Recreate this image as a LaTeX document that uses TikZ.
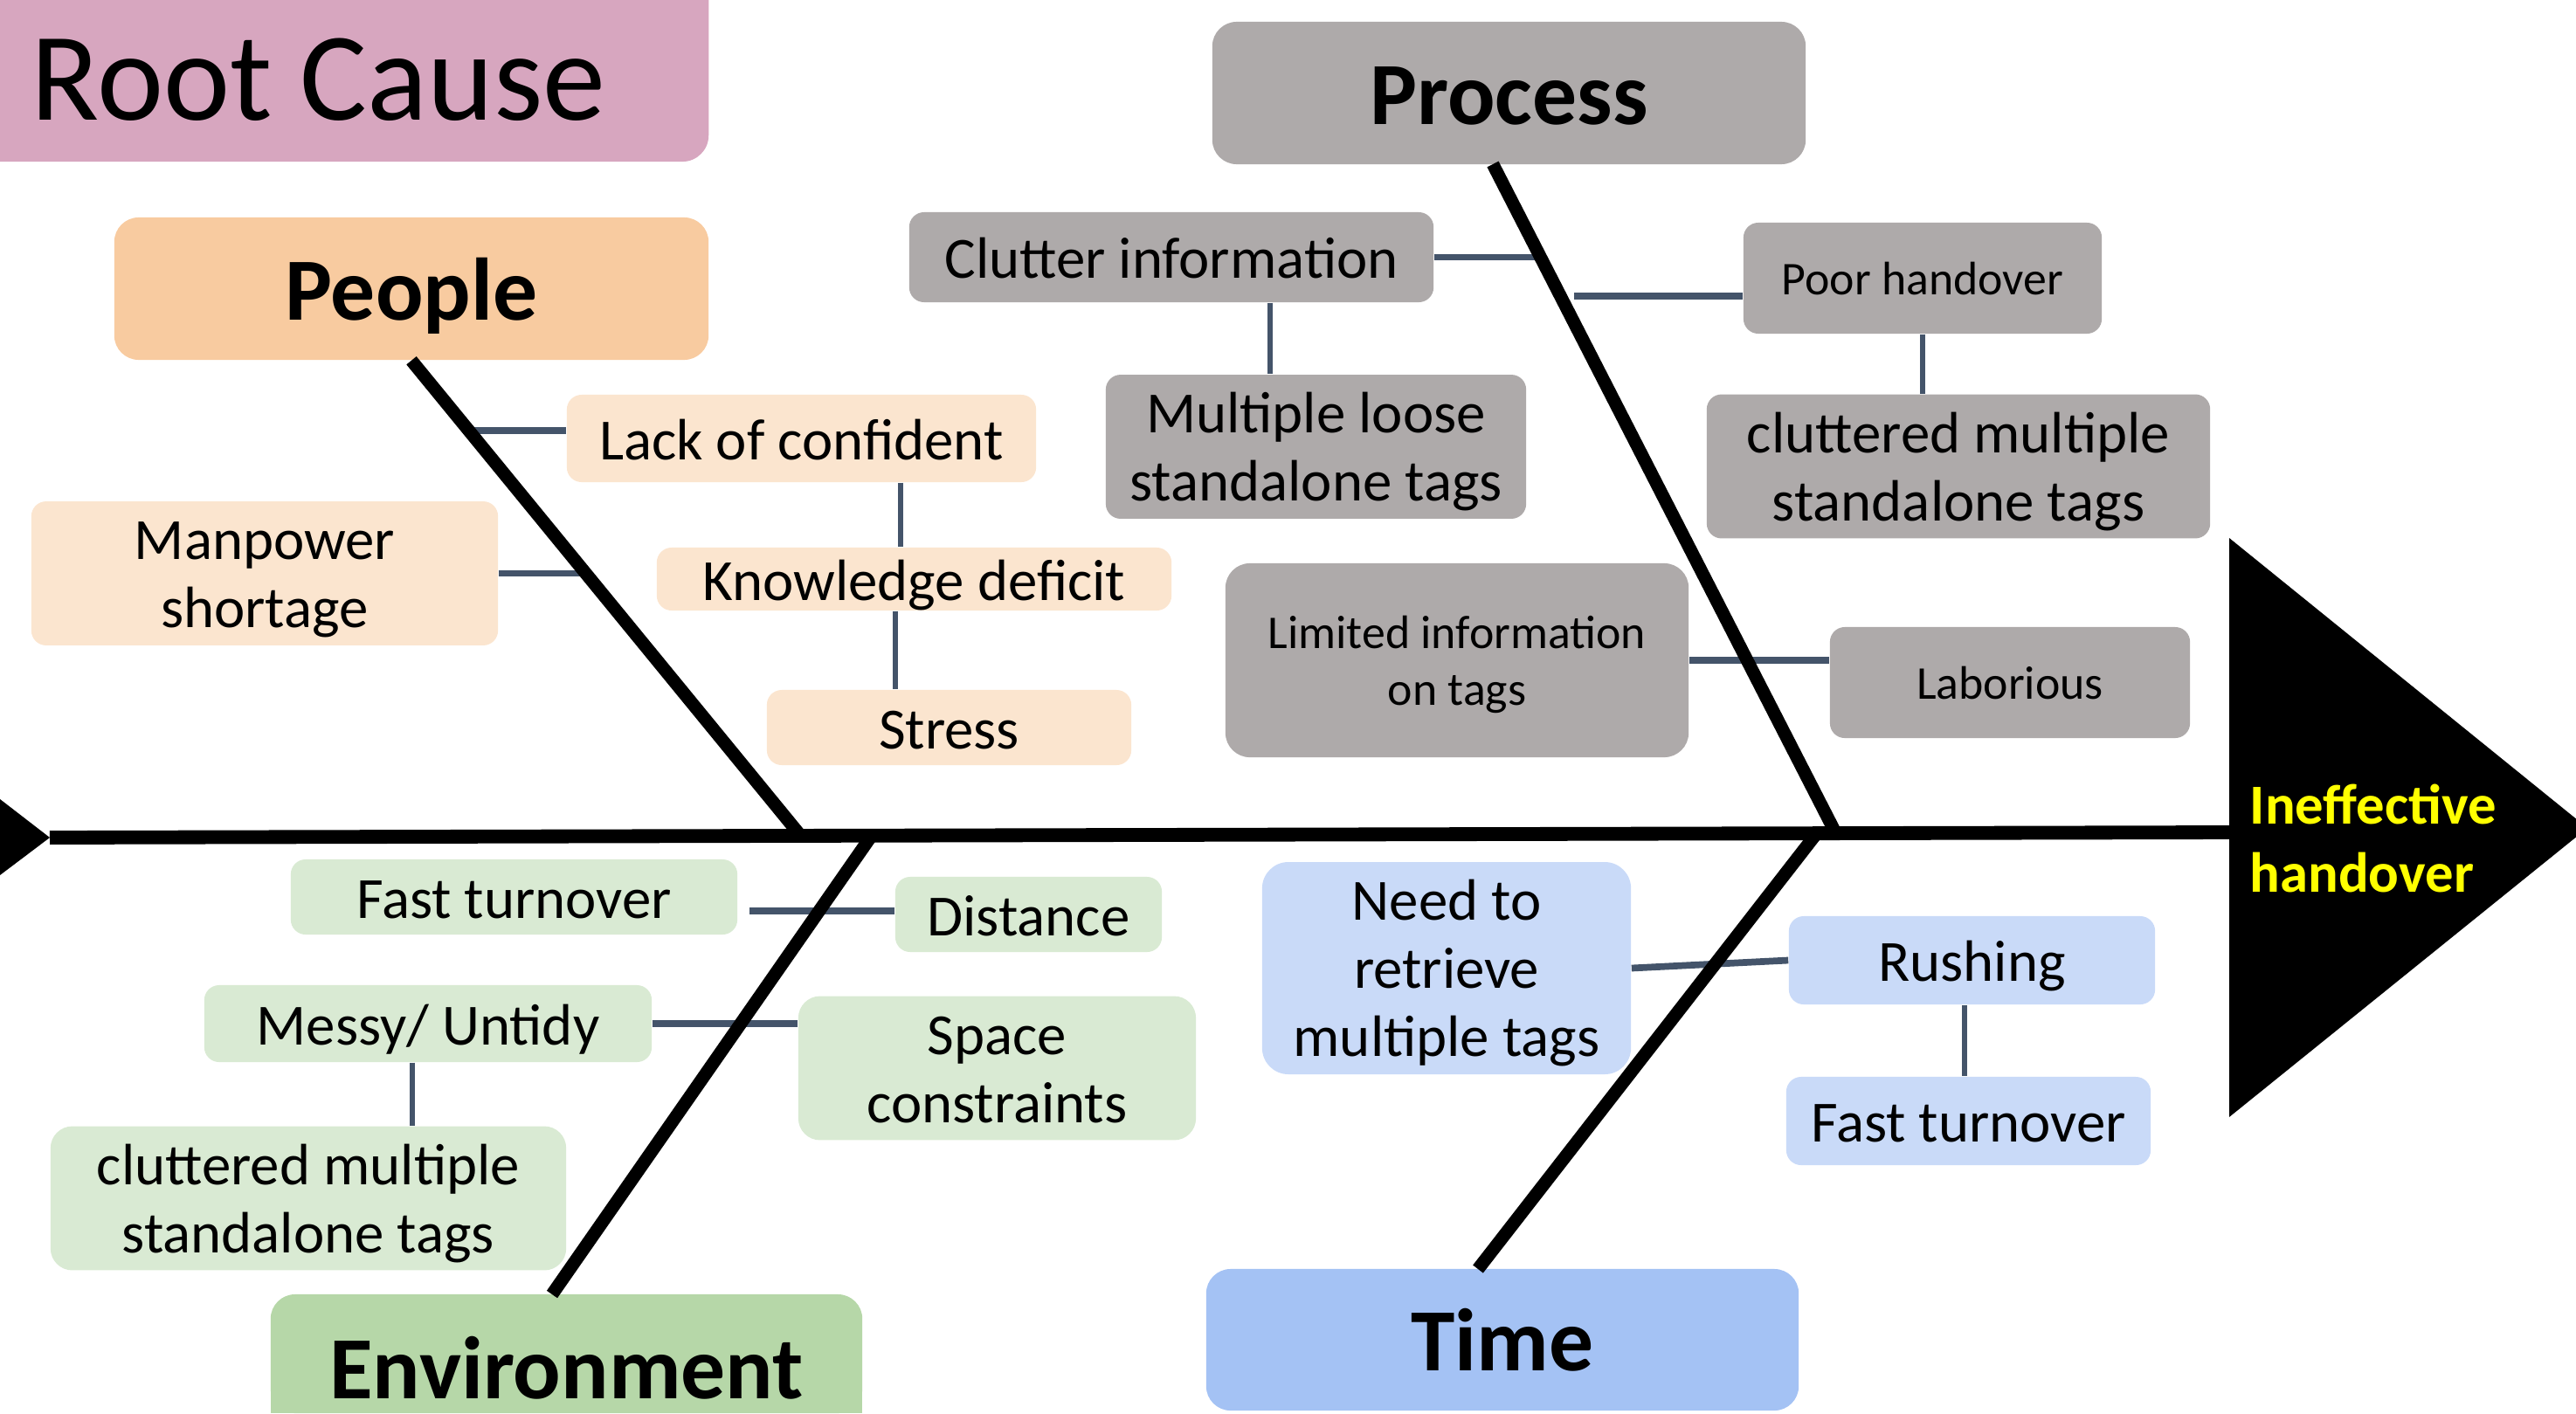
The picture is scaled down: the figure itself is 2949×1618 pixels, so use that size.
\documentclass[tikz,border=0pt]{standalone}
\usepackage{fontspec}
\setmainfont{Carlito}
\usetikzlibrary{calc}
\definecolor{rootc}{HTML}{D7A6BF}
\definecolor{peoplec}{HTML}{F8CBA0}
\definecolor{peoplel}{HTML}{FBE5CF}
\definecolor{procc}{HTML}{AEAAAA}
\definecolor{envc}{HTML}{B6D7A8}
\definecolor{envl}{HTML}{D9EAD3}
\definecolor{timec}{HTML}{A4C2F4}
\definecolor{timel}{HTML}{C9DAF8}
\definecolor{linkc}{HTML}{44546A}
\definecolor{effc}{HTML}{FFFF00}
\newcommand\ftop{\rule{0pt}{1.0em}}
\newcommand\lbot{\rule[-0.3em]{0pt}{0pt}}
\tikzset{
  box/.style={rectangle, rounded corners=0.17cm, inner sep=0pt, align=center, text=black},
  bigbox/.style={box, rounded corners=0.28cm, font=\fontsize{28.9}{34}\selectfont\bfseries, text height=20.2pt, text depth=0pt},
  med/.style={font=\fontsize{19}{22.2}\selectfont},
  sml/.style={font=\fontsize{15.3}{18.5}\selectfont},
  onemed/.style={text height=13.8pt, text depth=0pt},
  onesml/.style={text height=11pt, text depth=0pt},
  sz/.style 2 args={minimum width=#1, minimum height=#2},
  bone/.style={line width=4.2pt},
  spine/.style={line width=4.5pt},
  link/.style={draw=linkc, line width=2.2pt},
  vlink/.style={draw=linkc, line width=1.8pt}
}
\begin{document}
\begin{tikzpicture}[x=0.01cm, y=-0.01cm]
\useasboundingbox (0,0) rectangle (2949,1618);

% coordinates on bones
\coordinate (pj) at (915,955);
\coordinate (prTop) at (1709,188);
\coordinate (prj) at (2101,953);
\coordinate (ej) at (999,955);
\coordinate (eBot) at (632,1482);
\coordinate (tj) at (2079,955);
\coordinate (tBot) at (1692,1453);
\coordinate (tail) at (57,959);
\coordinate (head) at (2552,953);

% boxes
\node[box, rounded corners=0.3cm, fill=rootc, sz={8.51cm}{2.25cm}] (rootbox) at (385.5,72.5) {};
\node[anchor=base west, inner sep=0pt, font=\fontsize{41}{49}\selectfont] (roottext) at (35,137) {Root Cause};

\node[bigbox, fill=peoplec, sz={6.8cm}{1.63cm}] (people) at (471,330.5) {People};
\node[bigbox, fill=procc, sz={6.79cm}{1.63cm}] (process) at (1727.5,106.5) {Process};
\fill[envc] (310,1560) rectangle (987,1618);
\node[bigbox, fill=envc, sz={6.77cm}{1.36cm}, text height=29.3pt] (env) at (648.5,1550) {Environment};
\node[bigbox, fill=timec, sz={6.78cm}{1.62cm}] (time) at (1720,1534) {Time};

% process causes
\node[box, fill=procc, med, onemed, sz={6cm}{1.03cm}] (clutter) at (1341,294.5) {Clutter information};
\node[box, fill=procc, sml, onesml, sz={4.1cm}{1.27cm}] (poor) at (2201,318.5) {Poor handover};
\node[box, fill=procc, med, sz={5.76cm}{1.62cm}] (clutP) at (2242,534) {\ftop cluttered multiple\\standalone tags\lbot};
\node[box, fill=procc, med, sz={4.81cm}{1.61cm}] (multi) at (1506.5,511.5) {\ftop Multiple loose\\standalone tags\lbot};
\node[box, fill=procc, sml, rounded corners=0.28cm, sz={5.3cm}{2.22cm}] (limited) at (1668,756) {\ftop Limited information\\on tags\lbot};
\node[box, fill=procc, sml, onesml, sz={4.12cm}{1.27cm}] (labor) at (2301,781.5) {Laborious};

% people causes
\node[box, fill=peoplel, med, onemed, sz={5.37cm}{1cm}] (lack) at (917.5,502) {Lack of confident};
\node[box, fill=peoplel, med, onemed, sz={5.89cm}{0.72cm}] (know) at (1046.5,663) {Knowledge deficit};
\node[box, fill=peoplel, med, onemed, sz={4.17cm}{0.86cm}] (stress) at (1086.5,833) {Stress};
\node[box, fill=peoplel, med, sz={5.34cm}{1.47cm}] (man) at (303,656.5) {\ftop Manpower\\shortage\lbot};

% environment causes
\node[box, fill=envl, med, onemed, sz={5.11cm}{0.86cm}] (fastE) at (588.5,1027) {Fast turnover};
\node[box, fill=envl, med, onemed, sz={3.05cm}{0.86cm}] (dist) at (1177.5,1047) {Distance};
\node[box, fill=envl, med, onemed, sz={5.12cm}{0.88cm}] (messy) at (490,1172) {Messy/ Untidy};
\node[box, fill=envl, med, rounded corners=0.25cm, sz={4.55cm}{1.64cm}] (space) at (1141.5,1223) {\ftop Space\\constraints\lbot};
\node[box, fill=envl, med, rounded corners=0.25cm, sz={5.9cm}{1.62cm}] (clutE) at (353,1372) {\ftop cluttered multiple\\standalone tags\lbot};

% time causes
\node[box, fill=timel, med, rounded corners=0.3cm, sz={4.22cm}{2.35cm}] (need) at (1656,1108.5) {\ftop Need to\\retrieve\\multiple tags\lbot};
\node[box, fill=timel, med, onemed, sz={4.19cm}{1.01cm}] (rush) at (2257.5,1099.5) {Rushing};
\node[box, fill=timel, med, onemed, sz={4.17cm}{1.01cm}] (fastT) at (2253.5,1283.5) {Fast turnover};

% connectors
\coordinate (j1) at (538,493);
\coordinate (j2) at (674,656.5);
\coordinate (j3) at (1761,294.5);
\coordinate (j4) at (1802,339);
\coordinate (j5) at (858,1043);
\coordinate (v1) at (1031,0);
\coordinate (v2) at (1025,0);
\coordinate (v3) at (1454,0);
\coordinate (v4) at (472,0);
\coordinate (v5) at (2249,0);
\draw[link] (j1) -- (j1 -| lack.west);
\draw[link] (man.east) -- (j2);
\draw[vlink] (lack.south -| v1) -- (know.north -| v1);
\draw[vlink] (know.south -| v2) -- (stress.north -| v2);
\draw[link] (clutter.east) -- (j3);
\draw[link] (j4) -- (j4 -| poor.west);
\draw[vlink] (clutter.south -| v3) -- (multi.north -| v3);
\draw[vlink] (poor.south) -- (poor.south |- clutP.north);
\draw[link] (limited.east) -- (limited.east -| labor.west);
\draw[link] (j5) -- (j5 -| dist.west);
\draw[link] (messy.east) -- (messy.east -| space.west);
\draw[vlink] (messy.south -| v4) -- (clutE.north -| v4);
\draw[link] (need.east) -- (rush.west);
\draw[vlink] (rush.south -| v5) -- (fastT.north -| v5);

% bones and spine
\draw[bone] (people.south) -- (pj);
\draw[bone] (prTop) -- (prj);
\draw[bone] (ej) -- (eBot);
\draw[bone] (tj) -- (tBot);
\draw[spine] (tail) -- (head);
\fill (0,915) -- (tail) -- (0,1002) -- cycle;
\fill (head |- 0,616) -- (2962,948) -- (head |- 0,1279) -- cycle;

\node[anchor=west, align=left, inner sep=0pt, text=effc, font=\fontsize{18.4}{22.2}\selectfont\bfseries] (effect) at (2575,960) {Ineffective\\handover};
\end{tikzpicture}
\end{document}
